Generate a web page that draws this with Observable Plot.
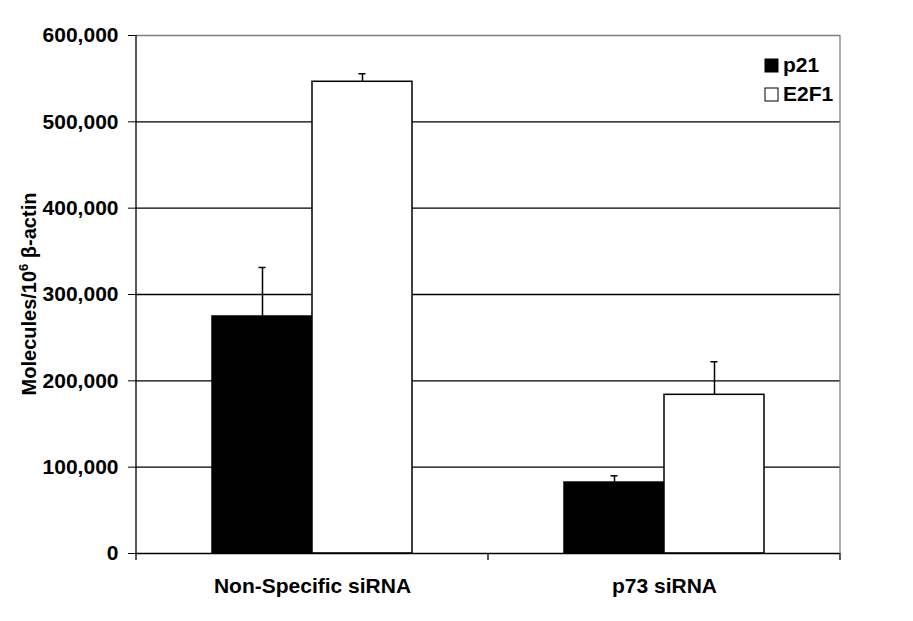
<!DOCTYPE html>
<html>
<head>
<meta charset="utf-8">
<script src="https://cdn.jsdelivr.net/npm/d3@7"></script>
<script src="https://cdn.jsdelivr.net/npm/@observablehq/plot@0.6"></script>
<style>
  html, body { margin: 0; padding: 0; background: white; }
  #chart { width: 913px; height: 621px; }
</style>
</head>
<body>
<div id="chart"></div>
<script>
const groups = ["Non-Specific siRNA", "p73 siRNA"];
const series = ["p21", "E2F1"];
const p21Values = [274500, 82200];
const e2f1Values = [546400, 183800];
const p21Errors = [56800, 7800];
const e2f1Errors = [9300, 38300];
const yTicks = [0, 100000, 200000, 300000, 400000, 500000, 600000];
const seriesColors = ["black", "white"];

const rows = [];
groups.forEach((g, i) => {
  rows.push({group: g, series: "p21", value: p21Values[i], error: p21Errors[i]});
  rows.push({group: g, series: "E2F1", value: e2f1Values[i], error: e2f1Errors[i]});
});

const FONT = "'Liberation Sans', Arial, Helvetica, sans-serif";

const chart = Plot.plot({
  width: 913,
  height: 621,
  marginLeft: 136,
  marginRight: 73,
  marginTop: 35,
  marginBottom: 68,
  style: {fontFamily: FONT, fontSize: "21px", fontWeight: "bold", background: "white", color: "black", overflow: "visible"},
  fx: {domain: groups, padding: 0, label: null, tickSize: 0, tickPadding: 25, axis: "bottom"},
  x: {domain: series, paddingInner: 0, paddingOuter: 0.75, axis: null},
  y: {domain: [0, 600000], ticks: yTicks, tickFormat: d3.format(","), tickSize: 8, tickPadding: 10, label: null},
  color: {domain: series, range: seriesColors},
  marks: [
    Plot.ruleY(yTicks.filter(d => d > 0 && d < 600000), {stroke: "black", strokeWidth: 1.3}),
    Plot.ruleY([600000], {stroke: "#808080", strokeWidth: 1.3}),
    Plot.barY(rows, {fx: "group", x: "series", y: "value", fill: "series", stroke: "black", strokeWidth: 1.5}),
    Plot.ruleX(rows, {fx: "group", x: "series", y1: "value", y2: d => d.value + d.error, stroke: "black", strokeWidth: 1.5}),
    Plot.tickY(rows, {fx: "group", x: "series", y: d => d.value + d.error, insetLeft: 46.5, insetRight: 46.5, stroke: "black", strokeWidth: 1.5}),
    Plot.ruleY([0], {stroke: "black", strokeWidth: 1.3})
  ]
});

document.getElementById("chart").appendChild(chart);

// Excel-style frame pieces derived from the scales
const svg = d3.select(chart);
const fx = chart.scale("fx");
const y = chart.scale("y");
const x0 = fx.range[0], x1 = fx.range[1];
const y0 = y.apply(0), yTop = y.apply(600000);
const boundaries = groups.map(g => fx.apply(g)).concat([x1]);

svg.append("line").attr("x1", x0).attr("x2", x0).attr("y1", yTop).attr("y2", y0)
  .attr("stroke", "black").attr("stroke-width", 1.3);
svg.append("line").attr("x1", x1).attr("x2", x1).attr("y1", yTop).attr("y2", y0)
  .attr("stroke", "#808080").attr("stroke-width", 1.3);
boundaries.forEach(bx => {
  svg.append("line").attr("x1", bx).attr("x2", bx).attr("y1", y0).attr("y2", y0 + 7)
    .attr("stroke", "black").attr("stroke-width", 1.3);
});

// Y axis title
const yl = svg.append("text")
  .attr("transform", `translate(36,${(y0 + yTop) / 2}) rotate(-90)`)
  .attr("text-anchor", "middle")
  .attr("font-family", FONT).attr("font-size", 20).attr("font-weight", "bold").attr("fill", "black");
yl.append("tspan").text("Molecules/10");
yl.append("tspan").attr("font-size", 13).attr("dy", -8).text("6");
yl.append("tspan").attr("dy", 8).text(" β-actin");

// Legend
const legend = svg.append("g").attr("font-family", FONT).attr("font-size", 21)
  .attr("font-weight", "bold").attr("text-anchor", "start");
series.forEach((s, i) => {
  const ly = 59 + i * 29;
  legend.append("rect").attr("x", 765).attr("y", ly).attr("width", 13).attr("height", 13)
    .attr("fill", seriesColors[i]).attr("stroke", "black").attr("stroke-width", 1);
  legend.append("text").attr("x", 783).attr("y", ly + 13).attr("fill", "black")
    .attr("text-anchor", "start").text(s);
});
</script>
</body>
</html>
